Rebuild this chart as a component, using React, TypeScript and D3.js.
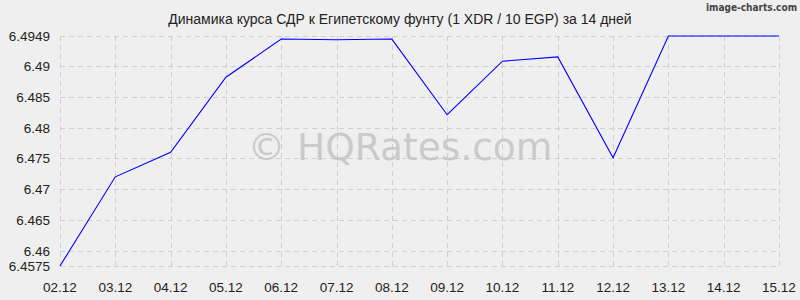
import React from "react";
import * as d3 from "d3";

const dates = ["02.12","03.12","04.12","05.12","06.12","07.12","08.12","09.12","10.12","11.12","12.12","13.12","14.12","15.12"];
const rates = [6.4575,6.4720,6.4760,6.4882,6.4944,6.4943,6.4944,6.4821,6.4908,6.4915,6.4751,6.4949,6.4949,6.4949];
const yTicks = [6.4575,6.46,6.465,6.47,6.475,6.48,6.485,6.49,6.4949];
const yTickLabels = ["6.4575","6.46","6.465","6.47","6.475","6.48","6.485","6.49","6.4949"];
const title = "Динамика курса СДР к Египетскому фунту (1 XDR / 10 EGP) за 14 дней";

export default function App() {
  const W = 800, H = 300;
  const x = d3.scalePoint<string>().domain(dates).range([60, 779]);
  const y = d3.scaleLinear().domain([6.4575, 6.4949]).range([266, 36]);
  const line = d3.line<number>().x((_, i) => x(dates[i])!).y(d => y(d));
  const font = "Arial, 'Liberation Sans', sans-serif";
  return (
    <svg width={W} height={H} style={{ position: "absolute", left: 0, top: 0, display: "block" }} xmlns="http://www.w3.org/2000/svg">
      <rect width={W} height={H} fill="#efefef" />
      <text x={400} y={24} textAnchor="middle" fontFamily={font} fontSize={14} fill="#222">{title}</text>
      <text x={797} y={11} textAnchor="end" fontFamily="'DejaVu Sans Condensed', 'DejaVu Sans', sans-serif" fontSize={10} fontWeight="bold" fill="#444">image-charts.com</text>
      {yTicks.map((t, i) => (
        <g key={"y" + i}>
          <line x1={60} x2={779} y1={Math.round(y(t)) + 0.5} y2={Math.round(y(t)) + 0.5} stroke="#cfcfcf" strokeDasharray="5,4" />
          <text x={50} y={y(t) + 5} textAnchor="end" fontFamily={font} fontSize={13.5} fill="#222">{yTickLabels[i]}</text>
        </g>
      ))}
      {dates.map((d, i) => (
        <g key={"x" + i}>
          <line x1={Math.round(x(d)!) + 0.5} x2={Math.round(x(d)!) + 0.5} y1={36} y2={266} stroke="#cfcfcf" strokeDasharray="5,4" />
          <text x={x(d)!} y={292} textAnchor="middle" fontFamily={font} fontSize={13.5} fill="#222">{d}</text>
        </g>
      ))}
      <text x={400} y={160} textAnchor="middle" fontFamily="'DejaVu Sans', sans-serif" fontSize={37.5} fill="#c4c4c4" fillOpacity={0.85}>© HQRates.com</text>
      <path d={line(rates)!} fill="none" stroke="#0000ff" strokeWidth={1.1} />
    </svg>
  );
}
